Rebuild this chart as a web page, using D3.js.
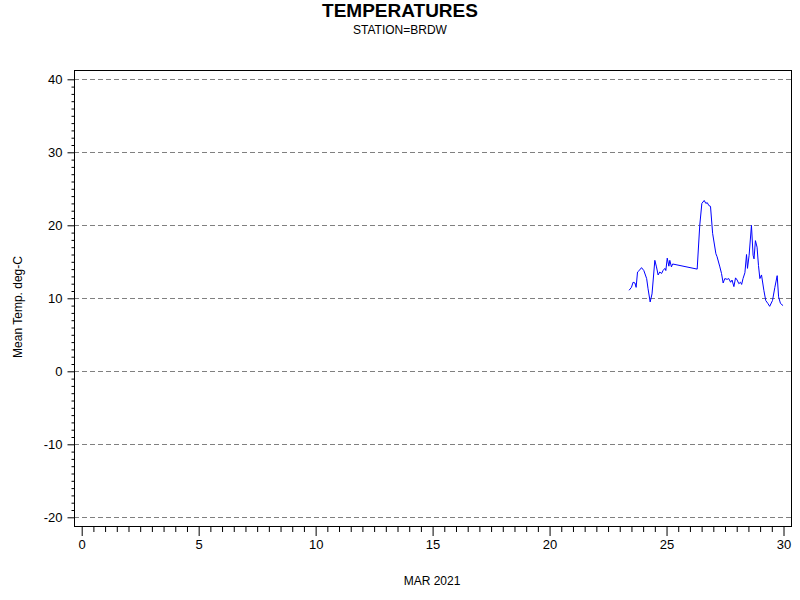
<!DOCTYPE html>
<html><head><meta charset="utf-8">
<script src="https://cdn.jsdelivr.net/npm/d3@7"></script>
<style>body{margin:0;background:#fff}svg{display:block}text{font-family:"Liberation Sans",Arial,sans-serif}</style>
</head><body>
<script>
const title = "TEMPERATURES";
const subtitle = "STATION=BRDW";
const xLabel = "MAR 2021";
const yLabel = "Mean Temp. deg-C";
const xTicks = [0,5,10,15,20,25,30];
const yTicks = [-20,-10,0,10,20,30,40];
const days = [23.40,23.50,23.57,23.65,23.70,23.76,23.86,23.93,24.03,24.15,24.21,24.30,24.38,24.50,24.57,24.64,24.71,24.79,24.85,24.93,24.97,25.03,25.10,25.14,25.21,25.26,26.31,26.42,26.51,26.61,26.68,26.74,26.81,26.88,26.97,27.11,27.16,27.28,27.35,27.42,27.49,27.59,27.66,27.74,27.80,27.88,27.95,28.02,28.09,28.16,28.21,28.27,28.35,28.42,28.46,28.53,28.63,28.70,28.74,28.80,28.87,28.93,28.99,29.06,29.16,29.24,29.33,29.41,29.53,29.63,29.73,29.79,29.87,29.98];
const temps = [11.1,11.5,12.2,12.1,11.5,13.6,13.9,14.2,13.8,12.7,11.3,9.5,10.6,15.2,14.3,13.2,13.6,13.4,13.8,14.1,13.8,15.5,14.4,15.2,14.3,14.7,14.0,20.0,23.0,23.4,23.0,23.1,22.7,22.6,18.9,16.1,15.7,14.3,13.4,12.1,12.7,12.6,12.7,12.2,12.5,11.6,12.8,12.5,12.0,12.2,11.9,12.7,13.5,16.0,14.1,15.9,20.0,15.9,15.4,17.9,17.0,14.5,12.7,13.2,11.1,9.7,9.3,8.9,9.7,11.5,13.1,10.2,9.3,9.0];

const W = 800, H = 600;
const frame = {l:74, r:791, t:70, b:526};
const svg = d3.select("body").append("svg").attr("width",W).attr("height",H);
const x = d3.scaleLinear().domain([0,30]).range([81.7,783.5]);
const y = d3.scaleLinear().domain([-20,40]).range([517.3,79.3]);
const fmt = d => String(d);

// gridlines
svg.append("g").selectAll("line").data(yTicks).join("line")
  .attr("x1",frame.l).attr("x2",frame.r)
  .attr("y1",d=>Math.round(y(d))+0.5).attr("y2",d=>Math.round(y(d))+0.5)
  .attr("stroke","#808080").attr("stroke-width",1).attr("stroke-dasharray","5,3");

// frame
svg.append("rect").attr("x",frame.l+0.5).attr("y",frame.t+0.5)
  .attr("width",frame.r-frame.l).attr("height",frame.b-frame.t)
  .attr("fill","none").attr("stroke","#000").attr("stroke-width",1);

// y axis
const yAxis = d3.axisLeft(y).tickValues(yTicks).tickSize(7).tickPadding(5).tickFormat(fmt);
const gy = svg.append("g").attr("transform",`translate(${frame.l+0.5},0)`).call(yAxis);
gy.select(".domain").remove();
gy.selectAll(".tick line").attr("stroke","#000");
gy.selectAll("text").attr("font-size",13).attr("fill","#000").attr("font-family","Liberation Sans, Arial, sans-serif");
const yMinor = d3.range(-20,41,1).filter(v=>v%10!==0);
const gym = svg.append("g").attr("transform",`translate(${frame.l+0.5},0)`).call(d3.axisLeft(y).tickValues(yMinor).tickSize(3).tickFormat(""));
gym.select(".domain").remove();
gym.selectAll(".tick line").attr("stroke","#000");

// x axis
const xAxis = d3.axisBottom(x).tickValues(xTicks).tickSize(9).tickPadding(4).tickFormat(fmt);
const gx = svg.append("g").attr("transform",`translate(0,${frame.b+1})`).call(xAxis);
gx.select(".domain").remove();
gx.selectAll(".tick line").attr("stroke","#000");
gx.selectAll("text").attr("font-size",13).attr("fill","#000").attr("font-family","Liberation Sans, Arial, sans-serif");
const xMinor = d3.range(0,30.01,0.5).filter(v=>v%5!==0);
const gxm = svg.append("g").attr("transform",`translate(0,${frame.b+1})`).call(d3.axisBottom(x).tickValues(xMinor).tickSize(5).tickFormat(""));
gxm.select(".domain").remove();
gxm.selectAll(".tick line").attr("stroke","#000");

// line
const pts = days.map((d,i)=>[d,temps[i]]);
svg.append("path").datum(pts)
  .attr("d",d3.line().x(d=>x(d[0])).y(d=>y(d[1])))
  .attr("fill","none").attr("stroke","#0000ff").attr("stroke-width",1);

// titles
svg.append("text").attr("x",400).attr("y",17).attr("text-anchor","middle")
  .attr("font-size",19).attr("font-weight","bold").text(title);
svg.append("text").attr("x",400).attr("y",34).attr("text-anchor","middle")
  .attr("font-size",12).text(subtitle);
svg.append("text").attr("x",432).attr("y",585).attr("text-anchor","middle")
  .attr("font-size",12).text(xLabel);
svg.append("text").attr("transform","translate(22,307) rotate(-90)").attr("text-anchor","middle")
  .attr("font-size",12).text(yLabel);
</script>
</body></html>
